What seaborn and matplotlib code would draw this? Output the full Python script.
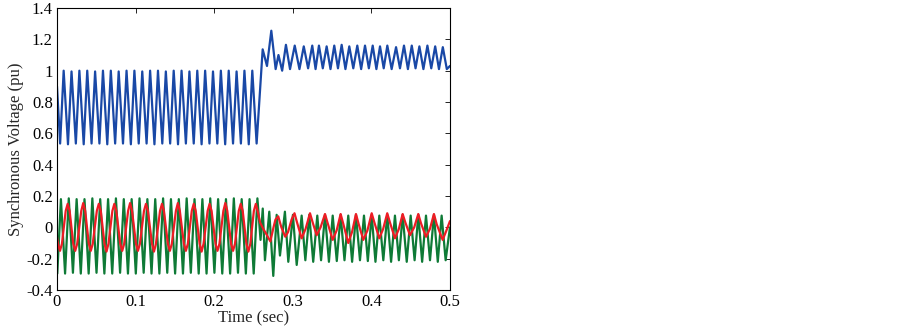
import matplotlib
matplotlib.use("Agg")
import matplotlib.pyplot as plt
import numpy as np
import pandas as pd
import seaborn as sns

# time in ms, value in pu (turning points)
blue_t = [0.0, 4.0, 8.5, 14.0, 18.5, 24.0, 28.5, 34.0, 38.5, 44.0, 48.5, 54.0, 58.5,
          64.0, 68.5, 74.0, 78.5, 84.0, 88.5, 94.0, 98.5, 104.0, 108.5, 114.0, 118.5,
          124.0, 128.5, 134.0, 138.5, 144.0, 148.5, 154.0, 158.5, 164.0, 168.5, 174.0,
          178.5, 184.0, 188.5, 194.0, 198.5, 204.0, 208.5, 214.0, 218.5, 224.0, 228.5,
          234.0, 238.5, 244.0, 248.5, 254.0,
          261.7, 267.2, 272.7, 278.2, 281.8, 286.5, 291.3, 296.5, 302.5, 308.5, 314.0,
          319.5, 324.8, 329.0, 333.3, 338.2, 343.1, 348.0, 352.8, 357.5, 362.2, 367.0,
          371.9, 377.0, 382.1, 387.0, 391.9, 396.8, 401.7, 406.4, 411.0, 415.7, 420.3,
          425.8, 431.4, 436.4, 441.5, 446.5, 451.4, 456.2, 461.1, 466.2, 471.3, 476.2,
          481.2, 486.0, 490.9, 496.0, 500.0]
blue_v = [0.90, 0.535, 1.0, 0.53, 0.995, 0.535, 1.0, 0.53, 1.0, 0.535, 0.995, 0.535, 1.0,
          0.53, 1.0, 0.535, 0.995, 0.535, 1.0, 0.53, 1.0, 0.535, 0.995, 0.535, 1.0,
          0.53, 1.0, 0.535, 0.995, 0.535, 1.0, 0.53, 1.0, 0.535, 0.995, 0.535,
          1.0, 0.53, 1.0, 0.535, 0.995, 0.535, 1.0, 0.53, 1.0, 0.535, 0.995,
          0.535, 1.0, 0.53, 1.0, 0.535,
          1.136, 1.03, 1.255, 1.01, 1.10, 1.00, 1.165, 1.01, 1.16, 1.01, 1.155,
          1.015, 1.16, 1.01, 1.16, 1.015, 1.155, 1.01, 1.16, 1.015, 1.165, 1.01,
          1.155, 1.015, 1.16, 1.01, 1.16, 1.015, 1.16, 1.01, 1.155, 1.015, 1.16,
          1.01, 1.15, 1.015, 1.16, 1.01, 1.16, 1.015, 1.155, 1.01, 1.16, 1.015,
          1.155, 1.01, 1.15, 1.01, 1.03]

green_t = [0.4, 5.0, 10.3, 15.0, 20.3, 25.0, 30.3, 35.0, 40.3, 45.0, 50.3, 55.0, 60.3,
           65.0, 70.3, 75.0, 80.3, 85.0, 90.3, 95.0, 100.3, 105.0, 110.3, 115.0, 120.3,
           125.0, 130.3, 135.0, 140.3, 145.0, 150.3, 155.0, 160.3, 165.0, 170.3, 175.0,
           180.3, 185.0, 190.3, 195.0, 200.3, 205.0, 210.3, 215.0, 220.3, 225.0, 230.3,
           235.0, 240.3, 245.0, 250.3, 255.0,
           259.0, 261.8, 264.6, 270.1, 275.2, 279.5, 283.7, 290.0, 294.3, 300.2, 305.0,
           311.3, 316.0, 321.0, 326.0, 331.2, 336.0, 341.0, 346.0, 350.8, 356.0, 360.9,
           365.8, 370.6, 375.5, 380.4, 385.5, 390.6, 395.5, 400.4, 405.2, 410.1, 415.2,
           420.2, 425.1, 430.0, 435.0, 439.8, 445.0, 450.0, 455.0, 459.7, 464.6, 469.5,
           474.6, 479.6, 484.5, 489.4, 494.5, 500.0]
green_v = [-0.295, 0.18, -0.295, 0.185, -0.29, 0.18, -0.295, 0.18, -0.295, 0.185, -0.29, 0.18, -0.295,
           0.18, -0.295, 0.185, -0.29, 0.18, -0.295, 0.18, -0.295, 0.185, -0.29, 0.18, -0.295,
           0.18, -0.295, 0.185, -0.29, 0.18, -0.295, 0.18, -0.295, 0.185, -0.29, 0.18,
           -0.295, 0.18, -0.295, 0.185, -0.29, 0.18, -0.295, 0.18, -0.295, 0.185, -0.29,
           0.18, -0.295, 0.18, -0.295, 0.185,
           -0.08, 0.12, -0.21, 0.10, -0.31, 0.08, -0.18, 0.10, -0.22, 0.08, -0.24,
           0.075, -0.21, 0.08, -0.22, 0.075, -0.21, 0.08, -0.22, 0.075, -0.215, 0.08,
           -0.21, 0.075, -0.22, 0.08, -0.21, 0.075, -0.215, 0.08, -0.22, 0.075, -0.21,
           0.08, -0.22, 0.075, -0.21, 0.08, -0.22, 0.075, -0.21, 0.08, -0.22, 0.075,
           -0.21, 0.08, -0.22, 0.075, -0.21, 0.0]

red_t = [0.0, 1.3, 3.8, 6.3, 11.1, 13.6, 16.1,
         20.7, 23.2, 25.7, 30.9, 33.4, 35.9,
         40.5, 43.0, 45.5, 50.7, 53.2, 55.7,
         60.5, 63.0, 65.5, 70.5, 73.0, 75.5,
         80.5, 83.0, 85.5, 90.5, 93.0, 95.5,
         100.5, 103.0, 105.5, 110.7, 113.2, 115.7,
         120.9, 123.4, 125.9, 131.1, 133.6, 136.1,
         141.1, 143.6, 146.1, 151.3, 153.8, 156.3,
         161.5, 164.0, 166.5, 171.5, 174.0, 176.5,
         181.5, 184.0, 186.5, 191.7, 194.2, 196.7,
         201.7, 204.2, 206.7, 211.7, 214.2, 216.7,
         221.5, 224.0, 226.5, 231.3, 233.8, 236.3,
         241.0, 243.5, 246.0, 250.5, 253.0,
         255.5, 258.5, 262.5, 266.0, 271.5, 275.5, 278.0, 281.5, 285.5, 290.5,
         294.0, 298.5, 302.2, 305.5, 311.3,
         316.3, 321.9, 325.4, 330.4, 335.4, 341.0, 344.5, 350.8,
         355.8, 360.9, 364.4, 370.6, 375.4, 380.4, 383.9, 389.7,
         395.0, 400.4, 403.9, 410.1, 415.0, 420.2, 423.7, 430.0,
         435.0, 439.8, 443.3, 449.1, 454.5, 459.7, 463.2, 469.5,
         474.5, 479.6, 483.1, 490.7, 495.5, 500.0]
red_v = [-0.06, -0.105, -0.15, -0.105, 0.105, 0.15, 0.105,
         -0.105, -0.15, -0.105, 0.105, 0.155, 0.105,
         -0.105, -0.15, -0.105, 0.105, 0.15, 0.105,
         -0.105, -0.155, -0.105, 0.105, 0.15, 0.105,
         -0.105, -0.15, -0.105, 0.105, 0.155, 0.105,
         -0.105, -0.15, -0.105, 0.105, 0.15, 0.105,
         -0.105, -0.155, -0.105, 0.105, 0.15, 0.105,
         -0.105, -0.15, -0.105, 0.105, 0.155, 0.105,
         -0.105, -0.15, -0.105, 0.105, 0.15, 0.105,
         -0.105, -0.155, -0.105, 0.105, 0.15, 0.105,
         -0.105, -0.15, -0.105, 0.105, 0.155, 0.105,
         -0.105, -0.15, -0.105, 0.105, 0.15, 0.105,
         -0.105, -0.155, -0.105, 0.105, 0.15,
         0.10, 0.03, -0.01, -0.04, -0.09, 0.0, 0.05, 0.07, 0.0, -0.06,
         -0.03, 0.05, 0.09, 0.03, -0.07,
         -0.01, 0.09, 0.03, -0.05, 0.0, 0.085, 0.025, -0.08,
         -0.02, 0.085, 0.02, -0.10, -0.03, 0.085, 0.02, -0.08,
         -0.02, 0.09, 0.03, -0.07, -0.01, 0.09, 0.03, -0.07,
         -0.01, 0.085, 0.03, -0.05, 0.0, 0.085, 0.025, -0.06,
         -0.01, 0.085, 0.02, -0.08, -0.02, 0.04]

x_ticks = [0, 0.1, 0.2, 0.3, 0.4, 0.5]
x_labels = ['0', '0.1', '0.2', '0.3', '0.4', '0.5']
y_ticks = [-0.4, -0.2, 0, 0.2, 0.4, 0.6, 0.8, 1.0, 1.2, 1.4]
y_labels = ['-0.4', '-0.2', '0', '0.2', '0.4', '0.6', '0.8', '1', '1.2', '1.4']

sns.set_theme(style='white')
plt.rcParams['font.family'] = ['Liberation Serif', 'DejaVu Serif']
plt.rcParams['font.size'] = 12

df = pd.concat([
    pd.DataFrame({'t': np.array(blue_t) / 1000, 'v': blue_v, 's': 'blue'}),
    pd.DataFrame({'t': np.array(green_t) / 1000, 'v': green_v, 's': 'green'}),
    pd.DataFrame({'t': np.array(red_t) / 1000, 'v': red_v, 's': 'red'}),
], ignore_index=True)

my_pal = {'blue': '#1948a6', 'green': '#0e7a36', 'red': '#ee1c24'}

fig = plt.figure(figsize=(9.03, 3.29), dpi=100)
ax = fig.add_axes([0.0631, 0.1185, 0.4352, 0.8572])
sns.lineplot(data=df, x='t', y='v', hue='s', palette=my_pal, sort=False,
             estimator=None, legend=False, linewidth=1.6, ax=ax)

ax.set_xlim(0, 0.5)
ax.set_ylim(-0.4, 1.4)
ax.set_xticks(x_ticks)
ax.set_xticklabels(x_labels)
ax.set_yticks(y_ticks)
ax.set_yticklabels(y_labels)
ax.tick_params(direction='in', top=True, right=True, length=3.5, width=0.6,
               labelsize=12, pad=3, colors='black')
for spine in ['top', 'bottom', 'left', 'right']:
    ax.spines[spine].set_linewidth(0.8)
    ax.spines[spine].set_color('black')

ax.set_xlabel('Time (sec)', fontsize=12)
ax.set_ylabel('Synchronous Voltage (pu)', fontsize=12)
ax.xaxis.set_label_coords(0.5, -0.072)
ax.yaxis.set_label_coords(-0.083, 0.5)

fig.savefig('out.png', dpi=100)
